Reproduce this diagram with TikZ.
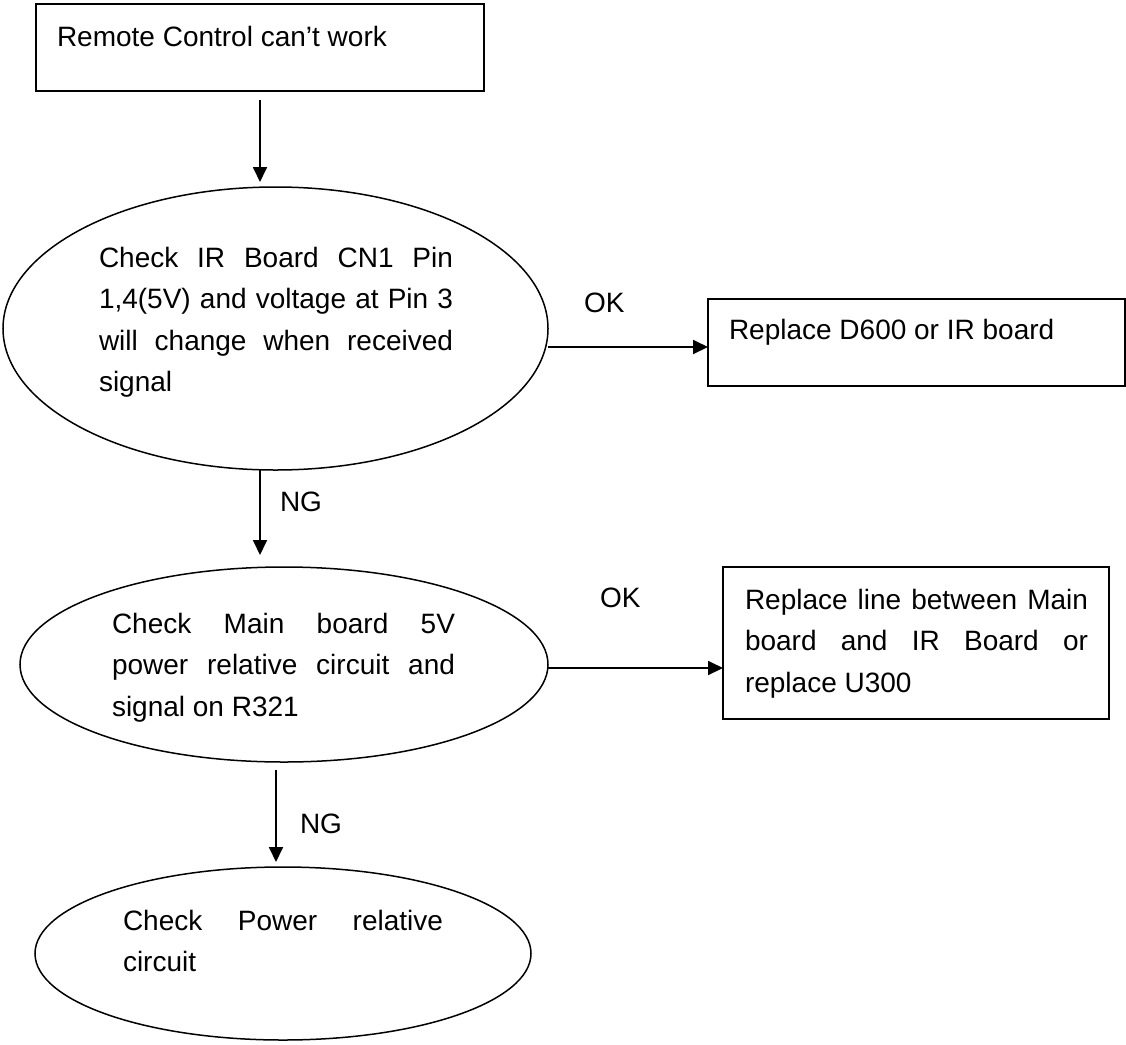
\documentclass[tikz,border=0pt]{standalone}
\usepackage{fontspec}
\setmainfont{Liberation Sans}
\usetikzlibrary{shapes.geometric,arrows.meta}
\hbadness=10000
\begin{document}
\begin{tikzpicture}[x=1pt,y=-1pt,
  every node/.style={inner sep=0pt, outer sep=0pt},
  boxnode/.style={draw, line width=1.8pt, rectangle},
  ovalnode/.style={draw, line width=1.5pt, ellipse},
  txt/.style={anchor=base west, font=\fontsize{28}{41.5}\selectfont},
  arr/.style={line width=1.8pt, -{Triangle[length=15pt,width=14pt]}}
]
\useasboundingbox (0,0) rectangle (1126,1044);

% process boxes
\node[boxnode, minimum width=448pt, minimum height=87pt] (box1) at (260,47.5) {};
\node[boxnode, minimum width=417pt, minimum height=87pt] (box2) at (916.5,342.5) {};
\node[boxnode, minimum width=386pt, minimum height=152pt] (box3) at (916,643) {};

% decision ellipses
\node[ovalnode, minimum width=545pt, minimum height=283pt] (e1) at (275.5,328.5) {};
\node[ovalnode, minimum width=528pt, minimum height=195pt] (e2) at (284,664.5) {};
\node[ovalnode, minimum width=496pt, minimum height=173pt] (e3) at (283,953.5) {};

% texts
\node[txt] (t0) at (57,46) {Remote Control can’t work};
\node[txt] (t1) at (99,267) {\parbox[t]{354pt}{Check IR Board CN1 Pin\linebreak
  1,4(5V) and voltage at Pin 3\linebreak will change when received\linebreak signal}};
\node[txt] (t2) at (729,339) {Replace D600 or IR board};
\node[txt] (t3) at (112,633) {\parbox[t]{343pt}{Check Main board 5V\linebreak
  power relative circuit and\linebreak signal on R321}};
\node[txt] (t4) at (745,609) {\parbox[t]{343pt}{Replace line between Main\linebreak
  board and IR Board or\linebreak replace U300}};
\node[txt] (t5) at (123,930) {\parbox[t]{320pt}{Check Power relative\linebreak circuit}};

% branch labels
\node[txt] (ok1) at (584,312) {OK};
\node[txt] (ok2) at (600,607) {OK};
\node[txt] (ng1) at (280,511) {NG};
\node[txt] (ng2) at (300,833) {NG};

% connectors
\draw[arr, shorten <=9pt, shorten >=5pt] (box1.south) -- (box1.south |- e1.north);
\draw[arr, shorten >=12pt] (e1.south -| box1.south) -- (e2.north -| box1.south);
\draw[arr, shorten <=8pt, shorten >=5pt] ([xshift=-8pt]e2.south) -- ([xshift=-7pt]e3.north);
\path ([yshift=-4.5pt]box2.west) coordinate (ok1end);
\draw[arr] (e1.east |- ok1end) -- (ok1end);
\path ([yshift=-25pt]box3.west) coordinate (ok2end);
\draw[arr] (e2.east |- ok2end) -- (ok2end);
\end{tikzpicture}
\end{document}
